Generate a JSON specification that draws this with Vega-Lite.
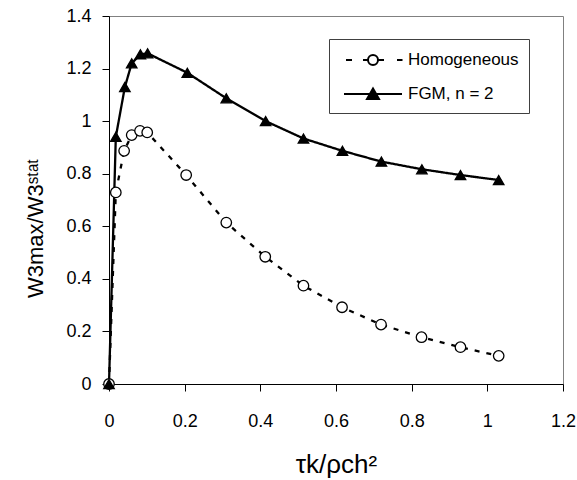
{
  "$schema": "https://vega.github.io/schema/vega-lite/v6.json",
  "width": 454,
  "height": 368,
  "autosize": "none",
  "padding": {"left": 109, "top": 16, "right": 14, "bottom": 96},
  "background": "white",
  "config": {
    "font": "Liberation Sans",
    "view": {"stroke": "#808080", "strokeWidth": 1}
  },
  "data": {
    "values": [
      {"series": "Homogeneous", "t": 0, "w": 0},
      {"series": "Homogeneous", "t": 0.018, "w": 0.729},
      {"series": "Homogeneous", "t": 0.04, "w": 0.887},
      {"series": "Homogeneous", "t": 0.06, "w": 0.947},
      {"series": "Homogeneous", "t": 0.082, "w": 0.963},
      {"series": "Homogeneous", "t": 0.101, "w": 0.957},
      {"series": "Homogeneous", "t": 0.204, "w": 0.795},
      {"series": "Homogeneous", "t": 0.31, "w": 0.614},
      {"series": "Homogeneous", "t": 0.413, "w": 0.484},
      {"series": "Homogeneous", "t": 0.514, "w": 0.374},
      {"series": "Homogeneous", "t": 0.616, "w": 0.292},
      {"series": "Homogeneous", "t": 0.719, "w": 0.226},
      {"series": "Homogeneous", "t": 0.826, "w": 0.178},
      {"series": "Homogeneous", "t": 0.929, "w": 0.14},
      {"series": "Homogeneous", "t": 1.03, "w": 0.107},
      {"series": "FGM, n = 2", "t": 0, "w": 0},
      {"series": "FGM, n = 2", "t": 0.018, "w": 0.94},
      {"series": "FGM, n = 2", "t": 0.042, "w": 1.13},
      {"series": "FGM, n = 2", "t": 0.06, "w": 1.22},
      {"series": "FGM, n = 2", "t": 0.083, "w": 1.254},
      {"series": "FGM, n = 2", "t": 0.102, "w": 1.258},
      {"series": "FGM, n = 2", "t": 0.207, "w": 1.184},
      {"series": "FGM, n = 2", "t": 0.31, "w": 1.087},
      {"series": "FGM, n = 2", "t": 0.414, "w": 1.0},
      {"series": "FGM, n = 2", "t": 0.514, "w": 0.934},
      {"series": "FGM, n = 2", "t": 0.617, "w": 0.887},
      {"series": "FGM, n = 2", "t": 0.72, "w": 0.846},
      {"series": "FGM, n = 2", "t": 0.827, "w": 0.817},
      {"series": "FGM, n = 2", "t": 0.929, "w": 0.795},
      {"series": "FGM, n = 2", "t": 1.03, "w": 0.776}
    ]
  },
  "encoding": {
    "x": {
      "field": "t",
      "type": "quantitative",
      "scale": {"domain": [0, 1.2], "nice": false, "zero": false},
      "axis": {
        "values": [0, 0.2, 0.4, 0.6, 0.8, 1, 1.2],
        "format": ".1~f",
        "grid": false,
        "domainColor": "black",
        "tickColor": "black",
        "tickSize": 7,
        "labelColor": "black",
        "labelFontSize": 18,
        "labelBaseline": "alphabetic",
        "labelPadding": 35,
        "labelFlush": false,
        "title": "τk/ρch²",
        "titleFontSize": 26,
        "titleFontWeight": "normal",
        "titleColor": "black",
        "titleBaseline": "alphabetic",
        "titleY": 88
      }
    },
    "y": {
      "field": "w",
      "type": "quantitative",
      "scale": {"domain": [0, 1.4], "nice": false},
      "axis": {
        "values": [0, 0.2, 0.4, 0.6, 0.8, 1, 1.2, 1.4],
        "format": ".1~f",
        "grid": false,
        "domainColor": "black",
        "tickColor": "black",
        "tickSize": 7,
        "labelColor": "black",
        "labelFontSize": 18,
        "labelPadding": 11,
        "labelFlush": false,
        "title": "W3max/W3ˢᵗᵃᵗ",
        "titleFontSize": 22,
        "titleFontWeight": "normal",
        "titleColor": "black",
        "titleAngle": 270,
        "titleAlign": "center",
        "titleBaseline": "middle",
        "titleX": -74,
        "titleY": 212
      }
    }
  },
  "layer": [
    {
      "mark": {"type": "line", "color": "black", "strokeWidth": 2.3, "strokeCap": "butt"},
      "encoding": {
        "strokeDash": {
          "field": "series",
          "type": "nominal",
          "scale": {"domain": ["FGM, n = 2", "Homogeneous"], "range": [[1, 0], [5, 7]]},
          "legend": null
        },
        "opacity": {
          "field": "series",
          "type": "nominal",
          "scale": {"domain": ["Homogeneous", "FGM, n = 2"], "range": [1, 1]},
          "legend": {
            "orient": "none",
            "legendX": 220,
            "legendY": 23,
            "title": null,
            "strokeColor": "#404040",
            "fillColor": "white",
            "padding": 10,
            "labelFontSize": 17,
            "labelColor": "black",
            "symbolSize": 400,
            "symbolOffset": 23,
            "labelOffset": 24,
            "rowPadding": 14,
            "symbolStrokeColor": "black",
            "symbolStrokeWidth": 2,
            "symbolOpacity": 1,
            "symbolType": {"expr": "datum.label == 'Homogeneous' ? 'M-2.7,0H-2.1M-1,0H-0.5M0.5,0H1.1M2.4,0H2.95M0.5,0A0.5,0.5 0 1,1 -0.5,0A0.5,0.5 0 1,1 0.5,0Z' : 'M-2.9,0H2.9M0,-0.55L0.6,0.5L-0.6,0.5Z'"},
            "symbolFillColor": {"expr": "datum.label == 'Homogeneous' ? 'white' : 'black'"}
          }
        }
      }
    },
    {
      "mark": {"type": "point", "stroke": "black", "strokeWidth": 1.3, "opacity": 1, "size": 110},
      "encoding": {
        "shape": {
          "field": "series",
          "type": "nominal",
          "scale": {"domain": ["FGM, n = 2", "Homogeneous"], "range": ["triangle-up", "circle"]},
          "legend": null
        },
        "fill": {
          "field": "series",
          "type": "nominal",
          "scale": {"domain": ["FGM, n = 2", "Homogeneous"], "range": ["black", "white"]},
          "legend": null
        }
      }
    }
  ]
}
